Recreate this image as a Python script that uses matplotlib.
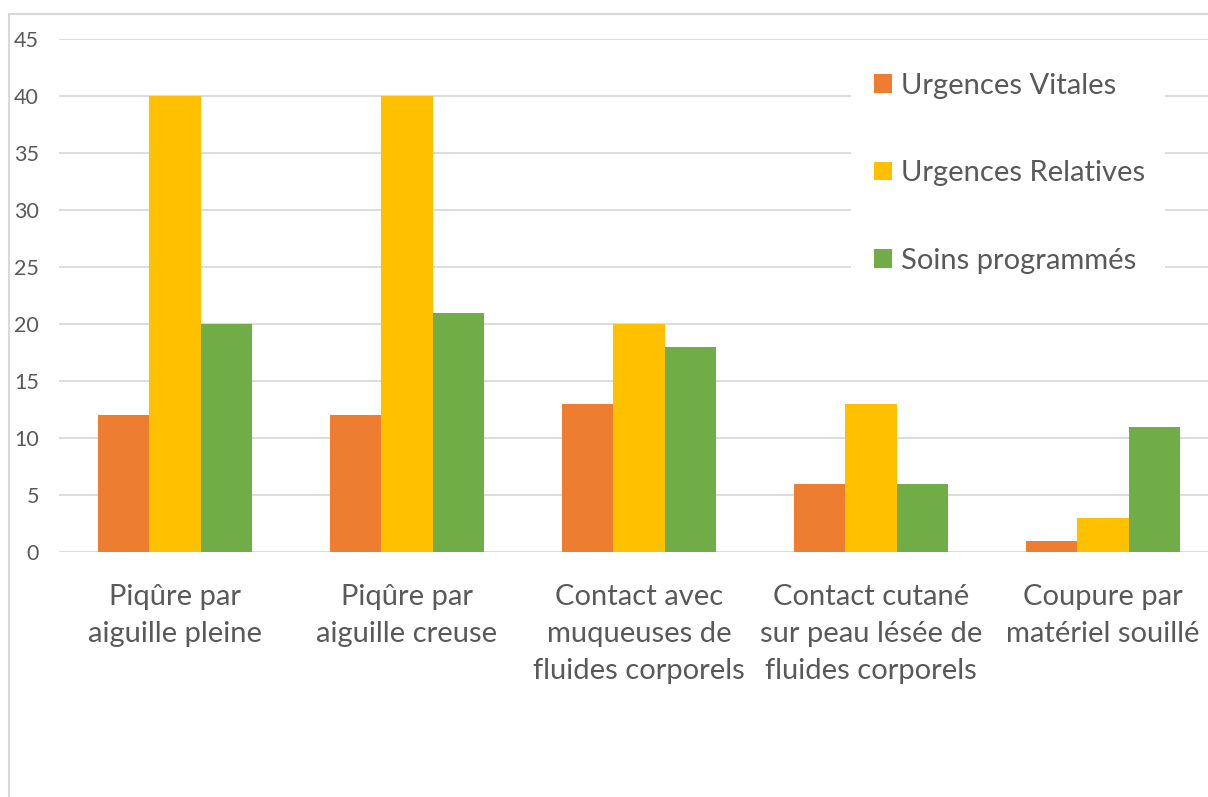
import matplotlib.pyplot as plt
import numpy as np
from matplotlib.lines import Line2D
from matplotlib.patches import Rectangle

# data
categories = ['Piqûre par\naiguille pleine', 'Piqûre par\naiguille creuse',
              'Contact avec\nmuqueuses de\nfluides corporels',
              'Contact cutané\nsur peau lésée de\nfluides corporels',
              'Coupure par\nmatériel souillé']
series_names = ['Urgences Vitales', 'Urgences Relatives', 'Soins programmés']
vitales = [12, 12, 13, 6, 1]
relatives = [40, 40, 20, 13, 3]
programmes = [20, 21, 18, 6, 11]
y_ticks = [0, 5, 10, 15, 20, 25, 30, 35, 40, 45]

colors = ['#ED7D31', '#FFC000', '#70AD47']
text_gray = '#595959'
grid_gray = '#D9D9D9'

plt.rcParams['font.family'] = ['Lato', 'DejaVu Sans']

W, H = 1208, 797
fig = plt.figure(figsize=(W / 100, H / 100), dpi=100)
# plot area in pixel terms: x 59..1219, y 39..552
ax = fig.add_axes([59 / W, (H - 552) / H, 1160 / W, 513 / H])

x = np.arange(len(categories))
bw = 0.667 / 3
for i, vals in enumerate([vitales, relatives, programmes]):
    ax.bar(x + (i - 1) * bw, vals, width=bw, color=colors[i],
           label=series_names[i], zorder=3)

ax.set_xlim(-0.5, len(categories) - 0.5)
ax.set_ylim(0, 45)
ax.set_yticks(y_ticks)
ax.set_yticklabels([str(v) for v in y_ticks])
ax.set_xticks(x)
ax.set_xticklabels(categories, linespacing=1.52)
ax.tick_params(axis='y', length=0, pad=14.5, labelsize=15.5, labelcolor=text_gray)
ax.tick_params(axis='x', length=0, pad=23, labelsize=21, labelcolor=text_gray)
ax.grid(axis='y', color=grid_gray, linewidth=1.3, zorder=0)
for s in ax.spines.values():
    s.set_visible(False)

# white box behind the legend hides the gridlines there
ax.add_patch(Rectangle((851 / W, (H - 300) / H), 314 / W, 260 / H,
                       facecolor='white', edgecolor='none', clip_on=False,
                       transform=fig.transFigure, zorder=4))

leg = ax.legend(loc='upper left', bbox_to_anchor=(874 / W, (H - 73) / H),
                bbox_transform=fig.transFigure, frameon=False,
                fontsize=21, labelcolor=text_gray, handlelength=0.62,
                handleheight=0.62, handletextpad=0.3, labelspacing=2.1,
                borderpad=0, borderaxespad=0)
leg.set_zorder(5)

# outer chart frame (left and top edges visible)
fig.add_artist(Line2D([8.5 / W, 8.5 / W], [0, (H - 14) / H], color=grid_gray,
                      linewidth=1.5, transform=fig.transFigure))
fig.add_artist(Line2D([8.5 / W, 1], [(H - 14) / H, (H - 14) / H], color=grid_gray,
                      linewidth=1.5, transform=fig.transFigure))

fig.savefig('out.png', dpi=100)
